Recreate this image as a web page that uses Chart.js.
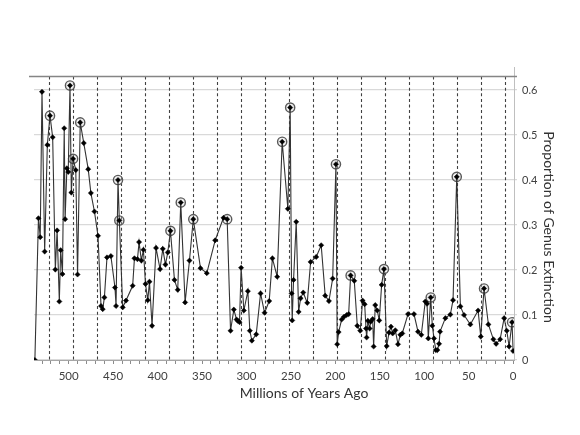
<!DOCTYPE html>
<html><head><meta charset="utf-8">
<script src="https://cdn.jsdelivr.net/npm/chart.js@4/dist/chart.umd.min.js"></script>
<style>html,body{margin:0;padding:0;background:#fff;}</style>
</head><body>
<canvas id="c" width="580" height="435"></canvas>
<script>
// Age (millions of years ago) of each sample and proportion of genus extinction
const agesMyr = [538,534,532,530,527,524,521,518,515,513,510.5,509,507,505,504,502,500.5,498.5,497,495,492,490,487,483,478,475,471,467,463.6,461.7,459.8,456.9,452.5,447.9,446.7,444.5,443,439.2,435.5,428,426,422.6,420.8,418.2,415.9,413.6,411,409.1,406.2,401.7,397.2,394.1,391.1,388.5,385.5,381,377.3,373.9,369,364.1,359.8,351.7,344.6,335.2,325.8,321.7,317.9,314.2,311.1,309.7,307.8,306,302.9,298.4,296.2,293.9,289,284.1,279.6,274.4,270.8,265.4,259.8,253.4,250.8,249.2,248.5,247,244,241.3,239.1,236.1,231.6,227.8,221.5,215.9,211.4,207.2,203,199.3,197.9,196.3,192.9,190.3,187.3,185,182.8,178.7,175.3,172,169.3,167,165.5,164.8,163.3,161.4,160.3,158,156.9,155.1,152.8,150.6,147.9,145.3,142.2,139.6,137.4,135.5,132.5,129.5,126.9,124.7,118.2,111.5,107,103.3,98.8,96.8,95.4,92.7,90.9,89,87,85.2,83.3,82.2,76.2,70.6,67.6,63.4,59.3,55.2,48.1,39.4,36.4,32.7,27.8,22.2,19.1,14.6,10.1,7.1,4.5,1.2,0];
const extinction = [0.000,0.315,0.273,0.596,0.241,0.478,0.543,0.495,0.201,0.288,0.130,0.244,0.191,0.515,0.313,0.426,0.418,0.610,0.372,0.447,0.422,0.190,0.528,0.482,0.424,0.371,0.330,0.276,0.120,0.113,0.139,0.228,0.231,0.161,0.120,0.400,0.310,0.117,0.132,0.165,0.226,0.224,0.262,0.221,0.245,0.169,0.133,0.174,0.076,0.249,0.202,0.247,0.212,0.239,0.287,0.178,0.156,0.350,0.128,0.221,0.313,0.204,0.193,0.266,0.316,0.313,0.065,0.112,0.090,0.087,0.084,0.205,0.110,0.153,0.065,0.043,0.057,0.148,0.105,0.131,0.226,0.185,0.485,0.336,0.561,0.148,0.088,0.178,0.307,0.107,0.137,0.150,0.127,0.218,0.229,0.255,0.143,0.131,0.181,0.435,0.035,0.062,0.090,0.096,0.100,0.102,0.188,0.176,0.076,0.065,0.132,0.124,0.070,0.050,0.087,0.070,0.085,0.091,0.030,0.122,0.110,0.088,0.167,0.202,0.031,0.061,0.074,0.059,0.066,0.035,0.056,0.059,0.102,0.102,0.063,0.056,0.130,0.125,0.048,0.139,0.076,0.048,0.022,0.022,0.036,0.063,0.093,0.101,0.133,0.407,0.119,0.100,0.079,0.110,0.052,0.159,0.079,0.046,0.036,0.046,0.093,0.065,0.030,0.084,0.020];
// Highlighted (circled) extinction peaks
const circledAges = [521,498.5,495,487,444.5,443,385.5,373.9,359.8,321.7,259.8,250.8,199.3,182.8,145.3,92.7,63.4,32.7,1.2];
const circledValues = [0.543,0.610,0.447,0.528,0.400,0.310,0.287,0.350,0.313,0.313,0.485,0.561,0.435,0.188,0.202,0.139,0.407,0.159,0.084];
// Periodic cycle markers (Myr ago)
const cycleLines = [9,36,63,90,117,144,171,198,225,252,279,306,333,360,387,414,441,468,495,522];
// Axis ticks
const xTickValues = [0,10,20,30,40,50,60,70,80,90,100,110,120,130,140,150,160,170,180,190,200,210,220,230,240,250,260,270,280,290,300,310,320,330,340,350,360,370,380,390,400,410,420,430,440,450,460,470,480,490,500,510,520,530];
const xTickLabels = ['500','450','400','350','300','250','200','150','100','50','0'];
const yTickValues = [0,0.1,0.2,0.3,0.4,0.5,0.6];
const yTickLabels = ['0','0.1','0.2','0.3','0.4','0.5','0.6'];
const topLineValue = 0.63;
const xTitle = 'Millions of Years Ago';
const yTitle = 'Proportion of Genus Extinction';

const mainPts = agesMyr.map((a,i)=>({x:a,y:extinction[i]}));
const circPts = circledAges.map((a,i)=>({x:a,y:circledValues[i]}));

const decor = {
  id:'decor',
  beforeDatasetsDraw(chart){
    const {ctx, scales:{x,y}, chartArea:ca} = chart;
    ctx.save();
    ctx.strokeStyle='#404040'; ctx.lineWidth=1.1; ctx.setLineDash([3,2.6]);
    const yt = y.getPixelForValue(topLineValue), yb = y.getPixelForValue(0);
    cycleLines.forEach(v=>{
      const px = Math.round(x.getPixelForValue(v))+0.5;
      ctx.beginPath(); ctx.moveTo(px,yt); ctx.lineTo(px,yb); ctx.stroke();
    });
    ctx.setLineDash([]);
    ctx.strokeStyle='#858585'; ctx.lineWidth=1.3;
    ctx.beginPath(); ctx.moveTo(ca.left-5,yt); ctx.lineTo(ca.right+3,yt); ctx.stroke();
    ctx.restore();
  },
  afterDraw(chart){
    const {ctx, chartArea:ca} = chart;
    ctx.save();
    ctx.fillStyle='#333';
    ctx.font='14px Lato';
    ctx.textAlign='center'; ctx.textBaseline='middle';
    ctx.fillText(xTitle, (ca.left+ca.right)/2+30, 393);
    ctx.translate(549, 227);
    ctx.rotate(Math.PI/2);
    ctx.fillText(yTitle, 0, 0);
    ctx.restore();
  }
};

new Chart(document.getElementById('c'), {
  type:'scatter',
  data:{datasets:[
    {data:mainPts, showLine:true, borderColor:'#333', borderWidth:1.1,
     pointStyle:'rectRot', pointRadius:2.6, pointBackgroundColor:'#000', pointBorderColor:'#000', pointBorderWidth:0.5, order:1},
    {data:circPts, showLine:false, pointStyle:'circle', pointRadius:4.6,
     pointBackgroundColor:'rgba(210,210,210,0.35)', pointBorderColor:'#5a5a5a', pointBorderWidth:1.4, order:2}
  ]},
  options:{
    responsive:false, animation:false, devicePixelRatio:1,
    layout:{padding:{left:34, top:67.5, right:0, bottom:0}},
    plugins:{legend:{display:false}, tooltip:{enabled:false}},
    scales:{
      x:{type:'linear', position:'bottom', reverse:true, min:-1, max:539,
         afterFit(s){ s.height = 75; },
         afterBuildTicks(s){ s.ticks = xTickValues.map(v=>({value:v})); },
         ticks:{autoSkip:false, maxRotation:0,
                callback:v => (xTickLabels.includes(String(v)) ? String(v) : ''),
                font:{family:'Lato', size:11.5}, color:'#404040', padding:5},
         grid:{drawOnChartArea:false, drawTicks:true, tickLength:4, color:'#8c8c8c'},
         border:{color:'#a6a6a6', width:1}},
      y:{type:'linear', position:'right', min:0, max:0.65,
         afterFit(s){ s.width = 66; },
         afterBuildTicks(s){ s.ticks = yTickValues.map(v=>({value:v})); },
         ticks:{callback:(v,i) => yTickLabels[i],
                font:{family:'Lato', size:11}, color:'#404040', padding:5},
         grid:{color:'#d9d9d9', lineWidth:1.2, tickLength:3},
         border:{color:'#bfbfbf', width:1}}
    }
  },
  plugins:[decor]
});
</script>
</body></html>
